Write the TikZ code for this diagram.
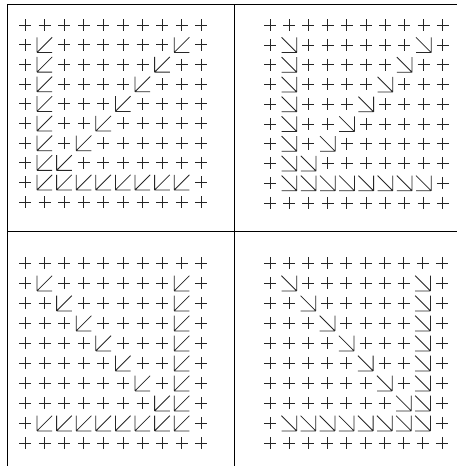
\documentclass[tikz,border=0pt]{standalone}
\usetikzlibrary{calc}

\tikzset{
  frm/.style={line width=0.9pt, black},
  grd/.style={line width=0.8pt, black!85},
  zeropt/.pic={\draw[grd] (-6,0) -- (6,0) (0,-6) -- (0,6);},
  % arrow glyph, #1=-1 points down-left, #1=1 points down-right
  fieldvec/.pic={\draw[grd] ({#1*7.6},7.6) -- ({#1*7.6},-7.6)
                            ({#1*7.6},7.6) -- ({-(#1)*7.6},7.6)
                            ({#1*7.6},7.6) -- ({-(#1)*7.6},-7.6);}
}

\begin{document}
\begin{tikzpicture}[x=1pt, y=-1pt]
\fill[white] (0,0) rectangle (457,466);
\useasboundingbox (0,0) rectangle (457,466);

% frame
\coordinate (fbl) at (7.3,466);
\coordinate (ftl) at (7.3,4.3);
\coordinate (ftr) at (457,4.3);
\coordinate (mtop) at (234.7,4.3);
\coordinate (mbot) at (234.7,466);
\coordinate (mlft) at (7.3,231);
\coordinate (mrgt) at (457,231);
\draw[frm] (fbl) -- (ftl) -- (ftr);
\draw[frm] (mtop) -- (mbot);
\draw[frm] (mlft) -- (mrgt);

% four panels: origin, spacing, arrow direction, pattern
\foreach \ox/\oy/\dx/\dy/\sx/\pat in {25/25.2/19.6/19.65/-1/0, 270/25.2/19.2/19.75/1/0,
                                      25/263.3/19.6/20/-1/1, 270/263.3/19.1/20/1/1} {
  \foreach \r in {0,...,9} {
    \foreach \c in {0,...,9} {
      \pgfmathtruncatemacro\isvec{((\c==(1+7*\pat)) && (\r>0) && (\r<9)) || ((\r==8) && (\c>0) && (\c<9)) || ((\r>0) && (\r<8) && (\c==(9-\r+\pat*(2*\r-9))))}
      \ifnum\isvec=1
        \pic at ({\ox+\c*\dx},{\oy+\r*\dy}) {fieldvec=\sx};
      \else
        \pic at ({\ox+\c*\dx},{\oy+\r*\dy}) {zeropt};
      \fi
    }
  }
}
\end{tikzpicture}
\end{document}
